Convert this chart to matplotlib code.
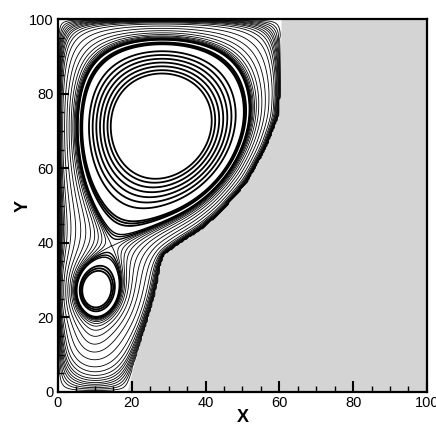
import matplotlib
matplotlib.use('Agg')
import matplotlib.pyplot as plt
import numpy as np

# Melt front (liquid/solid interface), x position at each height
front_y = [0, 1.4, 6.8, 15.8, 24.7, 29, 33.6, 36.7, 40, 43.4, 48, 56, 65, 73.8, 80, 87.2, 95, 100]
front_x = [18.5, 19.1, 20.4, 23.1, 25.8, 26.8, 27.6, 28.5, 33, 38.5, 43.9, 51, 56.1, 59.6, 60.1, 60.2, 60.4, 60.5]

# Vorticity sources: centre x, centre y, strength, core width
vort_x = [28.0, 9.0, 9.0]
vort_y = [72.0, 27.0, 13.0]
vort_a = [1.0, 1.6, 0.5]
vort_s = [10.0, 4.2, 3.0]

# Streamline levels, as fractions:
#   wall_frac  - of the saddle value (layers along walls and front)
#   sep_frac   - between saddle and lower-cell peak (lines hugging the separatrix)
#   lower_frac - between saddle and lower-cell peak (rings of the lower cell)
#   upper_frac - between lower-cell peak and main-cell peak (rings of the main cell)
wall_frac = [0.012, 0.024, 0.036, 0.05, 0.065, 0.08, 0.10, 0.12, 0.15, 0.19,
             0.25, 0.35, 0.47, 0.59, 0.70, 0.79, 0.86, 0.91, 0.95, 0.98, 1.0]
sep_frac = [0.04, 0.08, 0.12]
lower_frac = [0.36, 0.45, 0.54]
upper_frac = [0.04, 0.11, 0.18, 0.25, 0.32, 0.39, 0.45]

# Grid over the liquid part of the cavity
h = 0.4
xs = np.arange(0, 64 + h / 2, h)
ys = np.arange(0, 100 + h / 2, h)
X, Y = np.meshgrid(xs, ys)
liquid = X < np.interp(Y, front_y, front_x)
inner = liquid.copy()
inner[0, :] = inner[-1, :] = False
inner[:, 0] = inner[:, -1] = False

w = np.zeros_like(X)
for cx, cy, a, s in zip(vort_x, vort_y, vort_a, vort_s):
    w += a * np.exp(-((X - cx) ** 2 + (Y - cy) ** 2) / (2 * s ** 2))

# Solve lap(psi) = -w with psi = 0 on walls and front (red-black SOR)
psi = np.zeros_like(X)
ii, jj = np.indices(X.shape)
red = inner & ((ii + jj) % 2 == 0)
black = inner & ((ii + jj) % 2 == 1)
omega = 1.94
for it in range(2500):
    for m in (red, black):
        nb = (np.roll(psi, 1, 0) + np.roll(psi, -1, 0) +
              np.roll(psi, 1, 1) + np.roll(psi, -1, 1))
        new = 0.25 * (nb + h * h * w)
        psi[m] += omega * (new[m] - psi[m])
psi /= psi.max()

# peak of the lower cell and the saddle joining it to the main cell
p_low = psi[(X - vort_x[1]) ** 2 + (Y - vort_y[1]) ** 2 < 36].max()
band = (ys > 30) & (ys < 55)
saddle = psi[band].max(axis=1).min()

wall_levels = [saddle * f for f in wall_frac]
sep_levels = [saddle + (p_low - saddle) * f for f in sep_frac]
lower_levels = [saddle + (p_low - saddle) * f for f in lower_frac]
upper_levels = [p_low + (1 - p_low) * f for f in upper_frac]

fig = plt.figure(figsize=(4.36, 4.26), dpi=100)
ax = fig.add_axes([0.133, 0.08, 0.846, 0.875])

ax.fill_betweenx(front_y, front_x, 100, color='#d4d4d4', lw=0, zorder=0)
ax.contour(X, Y, psi, levels=wall_levels, colors='black', linewidths=0.6, zorder=2)
ax.contour(X, Y, psi, levels=sep_levels, colors='black', linewidths=1.0, zorder=2)
ax.contour(X, Y, psi, levels=lower_levels, colors='black', linewidths=1.3, zorder=2)
ax.contour(X, Y, psi, levels=upper_levels, colors='black', linewidths=1.3, zorder=2)

ax.set_xlim(0, 100)
ax.set_ylim(0, 100)
ax.set_xticks(np.arange(0, 101, 20))
ax.set_yticks(np.arange(0, 101, 20))
ax.set_xticks(np.arange(0, 101, 5), minor=True)
ax.set_yticks(np.arange(0, 101, 5), minor=True)
ax.tick_params(which='both', direction='in', top=False, right=False,
               labelsize=10.5, width=1.5, pad=3)
ax.tick_params(which='major', length=8)
ax.tick_params(which='minor', length=4, width=1)
for sp in ax.spines.values():
    sp.set_linewidth(1.6)
for lab in ax.get_xticklabels() + ax.get_yticklabels():
    lab.set_fontfamily('Liberation Sans')
ax.set_xlabel('X', fontsize=13, fontweight='bold', family='Liberation Sans', labelpad=-1)
ax.set_ylabel('Y', fontsize=13, fontweight='bold', family='Liberation Sans', labelpad=-2)

fig.savefig('out.png', dpi=100)
